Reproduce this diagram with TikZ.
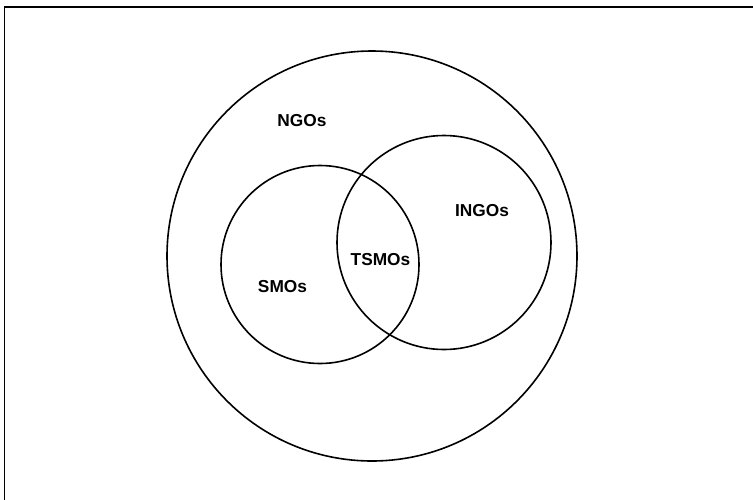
\documentclass[tikz,border=0pt]{standalone}
\usepackage{fontspec}
\setmainfont{Liberation Sans}
\begin{document}
\begin{tikzpicture}[x=1pt,y=-1pt,
  ring/.style={draw=black,line width=1.6pt},
  lbl/.style={font=\bfseries\fontsize{17.3}{20}\selectfont,anchor=base,inner sep=0pt}]
\useasboundingbox (0,0) rectangle (753,499);
\coordinate (fa) at (4.5,520);
\coordinate (fb) at (4.5,7);
\coordinate (fc) at (770,7);
\draw[line width=1.6pt] (fa) -- (fb) -- (fc);
\node[ring,circle,minimum size=410pt,inner sep=0pt] (ngo) at (372,256) {};
\node[ring,circle,minimum size=198pt,inner sep=0pt] (smo) at (320,264.5) {};
\node[ring,circle,minimum size=214pt,inner sep=0pt] (ingo) at (444,242.5) {};
\node[lbl] (tngo) at (302,126) {NGOs};
\node[lbl] (tsmo) at (282.5,292) {SMOs};
\node[lbl] (ttsmo) at (380.5,265) {TSMOs};
\node[lbl] (tingo) at (482,216) {INGOs};
\end{tikzpicture}
\end{document}
